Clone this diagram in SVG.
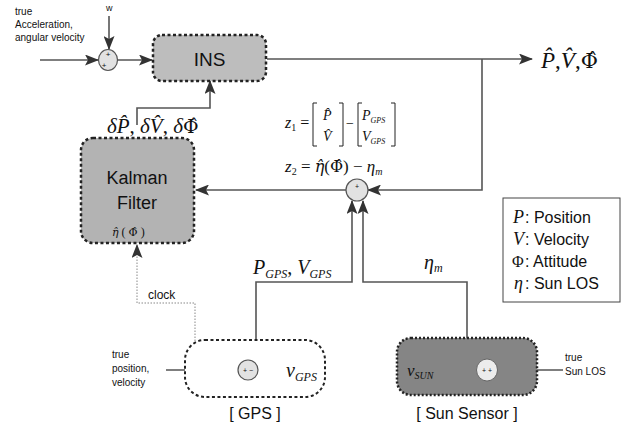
<svg xmlns="http://www.w3.org/2000/svg" width="627" height="428" viewBox="0 0 627 428">
<defs>
<style>
.ln{fill:none;stroke:#555;stroke-width:1.6}
.dot{fill:none;stroke:#888;stroke-width:1;stroke-dasharray:1.5,1.5}
.blk{fill:#bdbdbd;stroke:#222;stroke-width:2.5;stroke-dasharray:3,2.5}
.sum{fill:#e2e2e2;stroke:#555;stroke-width:1.2}
.sans{font-family:"Liberation Sans",Arial,sans-serif;fill:#111}
.math{font-family:"Liberation Serif","Times New Roman",serif;font-style:italic;fill:#111}
.rm{font-family:"Liberation Serif","Times New Roman",serif;fill:#111}
.dj{font-family:"DejaVu Serif",serif;font-style:normal}
.dji{font-family:"DejaVu Serif",serif;font-style:italic}
</style>
<marker id="ar" viewBox="0 0 14 11" refX="13" refY="5.5" markerWidth="14" markerHeight="11" markerUnits="userSpaceOnUse" orient="auto">
<path d="M0,0 L14,5.5 L0,11 L3,5.5 Z" fill="#333"/>
</marker>
</defs>
<rect width="627" height="428" fill="#fff"/>

<g id="connectors">
<line class="ln" x1="40" y1="60" x2="98" y2="60" marker-end="url(#ar)"/>
<line class="ln" x1="109" y1="16" x2="109" y2="49" marker-end="url(#ar)"/>
<line class="ln" x1="118" y1="60" x2="152" y2="60" marker-end="url(#ar)"/>
<line class="ln" x1="267" y1="59" x2="532" y2="59" marker-end="url(#ar)"/>
<polyline class="ln" points="482,59 482,190 368,190" marker-end="url(#ar)"/>
<line class="ln" x1="346" y1="190" x2="196" y2="190" marker-end="url(#ar)"/>
<polyline class="ln" points="137,125 137,108 210,108 210,81" marker-end="url(#ar)"/>
<polyline class="ln" points="256,340 256,282 352,282 352,201" marker-end="url(#ar)"/>
<polyline class="ln" points="467,338 467,282 363,282 363,201" marker-end="url(#ar)"/>
<polyline class="dot" points="195,356 195,303 137,303 137,245" marker-end="url(#ar)"/>
<line class="ln" x1="166" y1="370" x2="238" y2="370" marker-end="url(#ar)"/>
<line class="ln" x1="285" y1="370" x2="258" y2="370" marker-end="url(#ar)"/>
<line class="ln" x1="447" y1="370" x2="476" y2="370" marker-end="url(#ar)"/>
<line class="ln" x1="563" y1="370" x2="498" y2="370" marker-end="url(#ar)"/>
</g>

<g id="sum1">
<ellipse class="sum" cx="108" cy="60" rx="9.5" ry="10.5"/>
<text class="sans" x="108" y="57" font-size="8" text-anchor="middle">+</text>
<text class="sans" x="104" y="68" font-size="8" text-anchor="middle">+</text>
</g>
<g id="ins">
<rect class="blk" x="153" y="35" width="113" height="46" rx="9"/>
<text class="sans" x="209.5" y="66" font-size="19" text-anchor="middle">INS</text>
</g>
<g id="output-label">
<text class="math" x="541" y="68" font-size="23">P̂<tspan font-style="normal">,</tspan>V̂<tspan font-style="normal">,</tspan><tspan class="dj" font-size="21">Φ̂</tspan></text>
</g>
<g id="kalman">
<rect class="blk" x="81" y="138" width="113" height="105" rx="12" style="fill:#b3b3b3"/>
<text class="sans" x="137" y="184" font-size="18" text-anchor="middle">Kalman</text>
<text class="sans" x="137" y="209" font-size="18" text-anchor="middle">Filter</text>
<text class="math" x="112" y="236" font-size="12"><tspan class="dji" font-size="11">η̂</tspan><tspan font-style="normal"> ( </tspan><tspan class="dj" font-size="11">Φ̂</tspan><tspan font-style="normal"> )</tspan></text>
</g>
<g id="kalman-out-label">
<text class="math" x="107" y="133" font-size="21">δP̂<tspan font-style="normal">, </tspan>δV̂<tspan font-style="normal">, </tspan>δ<tspan class="dj" font-size="19">Φ̂</tspan></text>
</g>
<g id="equations">
<text class="math" x="285" y="128" font-size="16">z<tspan font-size="10" dy="3" font-style="normal">1</tspan><tspan dy="-3" font-style="normal"> =</tspan></text>
<path d="M317,103 h-4 v43 h4 M339,103 h4 v43 h-4" fill="none" stroke="#222" stroke-width="1"/>
<text class="math" x="323" y="120" font-size="14">P̂</text>
<text class="math" x="323" y="141" font-size="14">V̂</text>
<text class="rm" x="346" y="128" font-size="14">−</text>
<path d="M362,103 h-4 v43 h4 M391,103 h4 v43 h-4" fill="none" stroke="#222" stroke-width="1"/>
<text class="math" x="362" y="120" font-size="14">P<tspan font-size="8" dy="3">GPS</tspan></text>
<text class="math" x="362" y="141" font-size="14">V<tspan font-size="8" dy="3">GPS</tspan></text>
<text class="math" x="285" y="172" font-size="17">z<tspan font-size="10" dy="3" font-style="normal">2</tspan><tspan dy="-3" font-style="normal"> = </tspan><tspan class="dji" font-size="16">η̂</tspan><tspan font-style="normal">(</tspan><tspan class="dj" font-size="16">Φ̂</tspan><tspan font-style="normal">) − </tspan>η<tspan font-size="10" dy="3">m</tspan></text>
</g>
<g id="sum2">
<ellipse class="sum" cx="357" cy="190" rx="11" ry="11"/>
<text class="sans" x="357" y="189" font-size="7" text-anchor="middle">+</text>
</g>
<g id="gps-label">
<text class="math" x="253" y="274" font-size="20">P<tspan font-size="12" dy="4">GPS</tspan><tspan dy="-4" font-style="normal">, </tspan>V<tspan font-size="12" dy="4">GPS</tspan></text>
</g>
<g id="eta-label">
<text class="math" x="424" y="269" font-size="20">η<tspan font-size="12" dy="3">m</tspan></text>
</g>
<g id="legend">
<rect x="503" y="198" width="117" height="104" fill="#fff" stroke="#444" stroke-width="1"/>
<text class="math" x="513" y="223" font-size="18">P</text><text class="sans" x="525" y="223" font-size="16">: Position</text>
<text class="math" x="513" y="245" font-size="18">V</text><text class="sans" x="525" y="245" font-size="16">: Velocity</text>
<text class="rm" x="512" y="267" font-size="16">Φ</text><text class="sans" x="525" y="267" font-size="16">: Attitude</text>
<text class="math" x="514" y="289" font-size="18">η</text><text class="sans" x="525" y="289" font-size="16">: Sun LOS</text>
</g>
<g id="ins-input-label">
<text class="sans" x="15" y="15" font-size="10">true</text>
<text class="sans" x="15" y="28" font-size="10">Acceleration,</text>
<text class="sans" x="15" y="41" font-size="10">angular velocity</text>
<text class="sans" x="106" y="11" font-size="9">w</text>
</g>
<g id="gps">
<rect x="185" y="340" width="140" height="57" rx="20" fill="#fff" stroke="#222" stroke-width="2" stroke-dasharray="3,2.5"/>
<ellipse class="sum" cx="248" cy="370" rx="10" ry="10"/>
<text class="sans" x="248" y="373" font-size="7" text-anchor="middle">+ −</text>
<text class="math" x="286" y="377" font-size="20">v<tspan font-size="12" dy="4">GPS</tspan></text>
<text class="sans" x="255" y="419" font-size="16" text-anchor="middle">[ GPS ]</text>
<text class="sans" x="112" y="358" font-size="10">true</text>
<text class="sans" x="112" y="372" font-size="10">position,</text>
<text class="sans" x="112" y="386" font-size="10">velocity</text>
<text class="sans" x="148" y="299" font-size="12">clock</text>
</g>
<g id="sun-sensor">
<rect x="397" y="338" width="140" height="57" rx="14" fill="#858585" stroke="#222" stroke-width="2.5" stroke-dasharray="2,2"/>
<ellipse cx="487" cy="370" rx="10.5" ry="11" fill="#ececec" stroke="#666" stroke-width="1"/>
<text class="sans" x="487" y="373" font-size="7" text-anchor="middle">+ +</text>
<text class="math" x="407" y="376" font-size="17">v<tspan font-size="10" dy="3">SUN</tspan></text>
<text class="sans" x="467" y="419" font-size="16" text-anchor="middle">[ Sun Sensor ]</text>
<text class="sans" x="565" y="361" font-size="10">true</text>
<text class="sans" x="565" y="375" font-size="10">Sun LOS</text>
</g>
</svg>
